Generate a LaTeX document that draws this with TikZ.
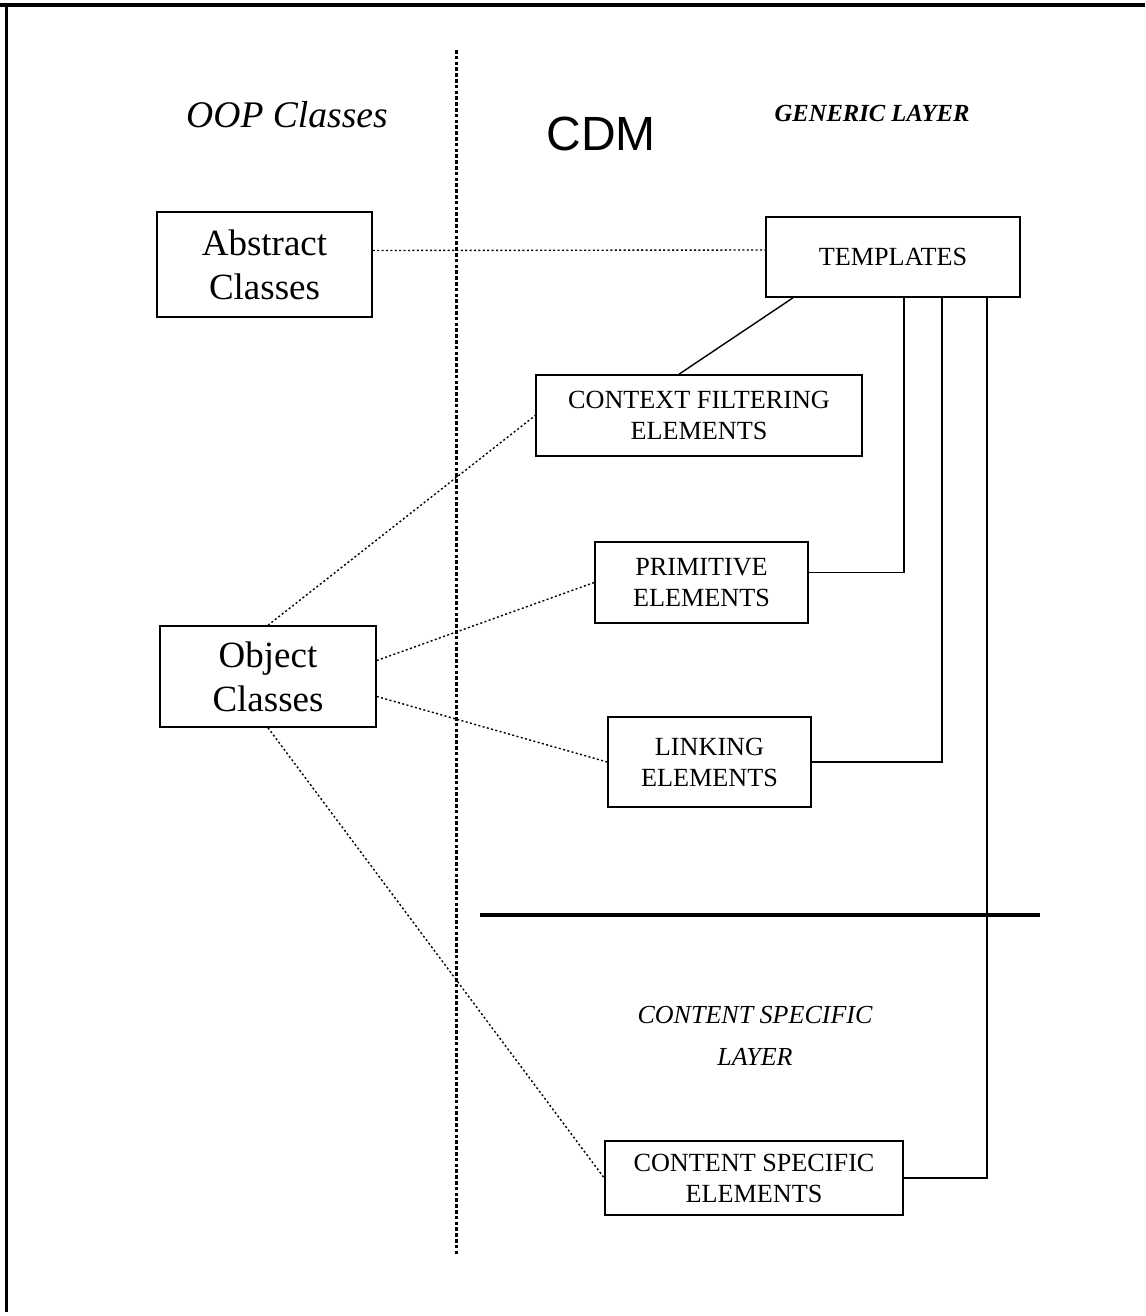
\documentclass[tikz,border=0pt]{standalone}
\usepackage{fontspec}
\setmainfont{Liberation Serif}
\newfontfamily\cdmfont{Liberation Sans}

\tikzset{
  classbox/.style={draw, line width=0.8pt, inner sep=0pt, align=center,
    font=\fontsize{18.5}{22}\selectfont},
  cdmbox/.style={draw, line width=0.8pt, inner sep=0pt, align=center,
    font=\fontsize{13.1}{15.5}\selectfont},
  dotlink/.style={line width=0.7pt, dash pattern=on 1pt off 1.2pt},
  solidlink/.style={line width=0.7pt},
  divider/.style={line width=1.5pt, dash pattern=on 1.8pt off 1.1pt}
}

\begin{document}
\begin{tikzpicture}[x=0.5pt, y=-0.5pt]
\useasboundingbox (0,0) rectangle (1145,1316);
% frame
\draw[line width=2pt] (0,5) -- (1145,5);
\draw[line width=1.5pt] (6,5) -- (6,1312);
% headings
\node[font=\fontsize{18.8}{22}\selectfont\itshape] (oop) at (287,115) {OOP Classes};
\node[font=\fontsize{24}{28}\selectfont\cdmfont] (cdm) at (601,134) {CDM};
\node[font=\fontsize{12.3}{14}\selectfont\bfseries\itshape] (gen) at (872,113) {GENERIC LAYER};
\node[font=\fontsize{13}{21}\selectfont\itshape, align=center] (spec) at (755,1036)
{CONTENT SPECIFIC\\LAYER};
% dividers
\draw[divider] (456,50) -- (456,1255);
\draw[line width=2pt] (480,915) -- (1040,915);
% OOP side
\node[classbox, minimum width=107.5pt, minimum height=52.5pt] (abs) at (264.5,264.5)
{Abstract\\Classes};
\node[classbox, minimum width=108pt, minimum height=50.5pt] (obj) at (268,676.5)
{Object\\Classes};
% CDM side
\node[cdmbox, minimum width=127pt, minimum height=40pt] (tmpl) at (893,257)
{TEMPLATES};
\node[cdmbox, minimum width=163pt, minimum height=40.5pt] (filt) at (699,415.5)
{CONTEXT FILTERING\\ELEMENTS};
\node[cdmbox, minimum width=106.5pt, minimum height=40.5pt] (prim) at (701.5,582.5)
{PRIMITIVE\\ELEMENTS};
\node[cdmbox, minimum width=101.5pt, minimum height=45pt] (lnk) at (709.5,762)
{LINKING\\ELEMENTS};
\node[cdmbox, minimum width=149pt, minimum height=37pt] (cont) at (754,1178)
{CONTENT SPECIFIC\\ELEMENTS};
% solid links from templates
\draw[solidlink] ([xshift=-50pt]tmpl.south) -- ([xshift=-10pt]filt.north);
\draw[solidlink] ([xshift=5.5pt]tmpl.south) |- ([yshift=5pt]prim.east);
\draw[solidlink] ([xshift=24.5pt]tmpl.south) |- (lnk.east);
\draw[solidlink] ([xshift=47pt]tmpl.south) |- (cont.east);
% dotted links
\draw[dotlink] ([yshift=7pt]abs.east) -- ([yshift=3.5pt]tmpl.west);
\draw[dotlink] (obj.north) -- (filt.west);
\draw[dotlink] ([yshift=8pt]obj.east) -- (prim.west);
\draw[dotlink] ([yshift=-10pt]obj.east) -- (lnk.west);
\draw[dotlink] (obj.south) -- (cont.west);
\end{tikzpicture}
\end{document}
